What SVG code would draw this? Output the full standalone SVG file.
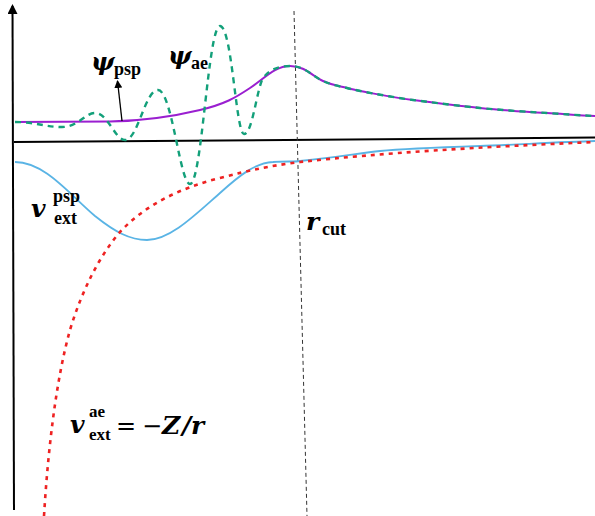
<svg xmlns="http://www.w3.org/2000/svg" width="595" height="516" viewBox="0 0 595 516">
<style>
.m{font-family:"DejaVu Serif","Liberation Serif",serif;font-weight:bold;font-style:italic;font-size:25px;fill:#000}
.s{font-family:"Liberation Serif","DejaVu Serif",serif;font-weight:bold;font-size:18px;fill:#000}
.t{font-family:"Liberation Serif","DejaVu Serif",serif;font-weight:bold;font-size:17px;fill:#000}
.o{font-family:"DejaVu Serif","Liberation Serif",serif;font-size:24px;fill:#000}
.ax{stroke:#000;stroke-width:2;fill:none}
.c{fill:none;stroke-linecap:butt}
</style>
<defs>
<marker id="ah" markerWidth="10" markerHeight="10" refX="8" refY="5" orient="auto" markerUnits="userSpaceOnUse">
<path d="M0,0 L10,5 L0,10 Z" fill="#000"/>
</marker>
<marker id="ah2" markerWidth="8" markerHeight="8" refX="7" refY="4" orient="auto" markerUnits="userSpaceOnUse">
<path d="M0,0 L8,4 L0,8 Z" fill="#000"/>
</marker>
</defs>
<rect width="595" height="516" fill="#fff"/>
<g id="axes">
<line class="ax" x1="14" y1="510" x2="12.5" y2="6" marker-end="url(#ah)"/>
<line class="ax" x1="14" y1="142" x2="595" y2="137.5"/>
<line x1="294" y1="11" x2="307" y2="516" stroke="#333" stroke-width="1" stroke-dasharray="4 3"/>
</g>
<g id="curves">
<path id="v-psp" class="c" stroke="#5ab4e5" stroke-width="1.8" d="M15,162 C45,162 70,195 95,216 C115,232 130,240 147,240 C170,240 195,215 220,193 C240,175 255,163 273,162 C285,161 295,162 300,161 C340,157 360,153 380,151 S450,147 480,146 S560,142 595,141"/>
<path id="v-ae" class="c" stroke="#ee2222" stroke-width="2.6" stroke-dasharray="4 5" d="M44,516 C48,450 56,380 70,330 C82,290 100,255 120,232 C145,205 180,188 220,178 C250,170 275,165 300,162 C380,153 480,147 595,142"/>
<path id="psi-psp" class="c" stroke="#9a1fd0" stroke-width="2" d="M15,122 L110,121.5 C140,121 175,116 200,110 S235,98 250,88 S275,66 290,66 S312,76 323,81 S340,86 347,88 S390,97 413,100 S460,106 480,108 S530,112 547,113 S580,115.5 595,116"/>
<path id="psi-ae" class="c" stroke="#13a07a" stroke-width="2.4" stroke-dasharray="6 5" d="M15,122 C35,122 45,127 62,127 C78,127 85,113 95,113 C108,113 115,140 125,140 C138,140 145,90 158,90 C172,90 180,184 190,184 C202,184 208,26 220,26 C232,26 236,134 244,134 C252,134 256,95 262,80 C268,70 278,66 290,66 C305,66 312,76 323,81 S340,86 347,88 S390,97 413,100 S460,106 480,108 S530,112 547,113 S580,115.5 595,116"/>
<line x1="122" y1="121" x2="117.5" y2="81" stroke="#000" stroke-width="1.3" marker-end="url(#ah2)"/>
</g>
<g id="label-psi-psp">
<text class="m" x="91" y="70">ψ</text>
<text class="s" x="114" y="75">psp</text>
</g>
<g id="label-psi-ae">
<text class="m" x="168" y="64">ψ</text>
<text class="s" x="191" y="69">ae</text>
</g>
<g id="label-v-psp">
<text class="m" x="31" y="217">v</text>
<text class="s" x="53" y="202">psp</text>
<text class="s" x="54" y="224">ext</text>
</g>
<g id="label-v-ae">
<text class="m" x="70" y="433">v</text>
<text class="t" x="89" y="417">ae</text>
<text class="t" x="89" y="440">ext</text>
<text class="o" x="116" y="434">=</text>
<text class="o" x="142" y="434">−</text>
<text class="m" x="162" y="434">Z</text>
<text class="m" x="182" y="434">/</text>
<text class="m" x="191" y="434">r</text>
</g>
<g id="label-rcut">
<text class="m" x="306" y="230">r</text>
<text class="s" x="322" y="235">cut</text>
</g>
</svg>
